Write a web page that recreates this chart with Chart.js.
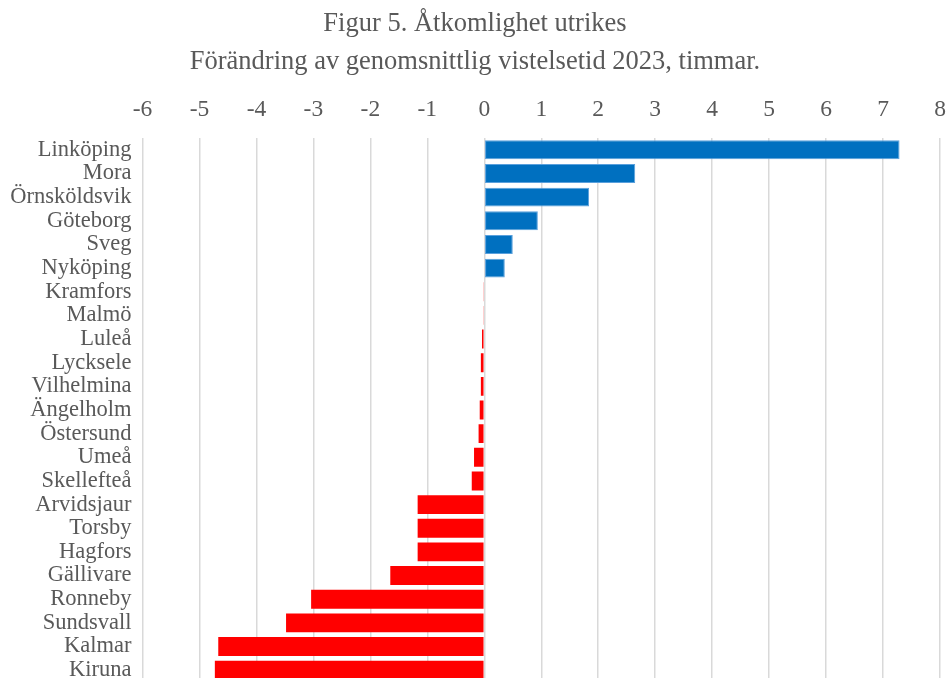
<!DOCTYPE html>
<html>
<head>
<meta charset="utf-8">
<script src="https://cdn.jsdelivr.net/npm/chart.js@4.4.0/dist/chart.umd.min.js"></script>
<style>
html,body{margin:0;padding:0;background:#fff;overflow:hidden;}
#wrap{position:relative;width:947px;height:683px;}
</style>
</head>
<body>
<div id="wrap"><canvas id="c"></canvas></div>
<script>
const titleLines = ["Figur 5. Åtkomlighet utrikes", "Förändring av genomsnittlig vistelsetid 2023, timmar."];
const categories = ["Linköping","Mora","Örnsköldsvik","Göteborg","Sveg","Nyköping","Kramfors","Malmö","Luleå","Lycksele","Vilhelmina","Ängelholm","Östersund","Umeå","Skellefteå","Arvidsjaur","Torsby","Hagfors","Gällivare","Ronneby","Sundsvall","Kalmar","Kiruna"];
const values = [7.29,2.65,1.84,0.94,0.50,0.36,-0.01,-0.01,-0.04,-0.06,-0.06,-0.08,-0.10,-0.18,-0.22,-1.17,-1.17,-1.17,-1.65,-3.04,-3.48,-4.67,-4.73];
const axisMin = -6, axisMax = 8, axisStep = 1;
const positiveColor = "#0070C0", negativeColor = "#FF0000";

const FONT = "'Liberation Serif', 'Times New Roman', serif";
const zeroPad = (s) => { s.paddingLeft = 0; s.paddingRight = 0; s.paddingTop = 0; s.paddingBottom = 0; };
new Chart(document.getElementById('c'), {
  type: 'bar',
  data: {
    labels: categories,
    datasets: [{
      data: values,
      backgroundColor: values.map(v => v >= 0 ? positiveColor : negativeColor),
      borderColor: values.map(v => v >= 0 ? '#5aa0dc' : negativeColor),
      borderWidth: values.map(v => v >= 0 ? 1 : 0),
      borderSkipped: false,
      categoryPercentage: 1.0,
      barPercentage: 0.8
    }]
  },
  options: {
    indexAxis: 'y',
    responsive: true,
    maintainAspectRatio: false,
    animation: false,
    layout: { padding: { left: 10, right: 7, top: 0, bottom: 1 } },
    plugins: {
      legend: { display: false },
      tooltip: { enabled: false },
      title: {
        display: true,
        text: titleLines,
        color: '#595959',
        font: { family: FONT, size: 26.5, weight: 'normal', lineHeight: 1.434 },
        padding: { top: 5, bottom: 0 }
      }
    },
    scales: {
      x: {
        position: 'top',
        min: axisMin, max: axisMax,
        afterFit: (s) => { zeroPad(s); s.height += 0.8; },
        ticks: { stepSize: axisStep, color: '#595959', font: { family: FONT, size: 23.5 }, padding: 14 },
        grid: { color: '#d9d9d9', lineWidth: 1.5, drawTicks: false },
        border: { display: false }
      },
      y: {
        afterFit: (s) => { zeroPad(s); s.width = 132.5; },
        ticks: { color: '#595959', font: { family: FONT, size: 22.5 }, padding: 11, autoSkip: false },
        grid: { display: false, drawTicks: false },
        border: { display: false }
      }
    }
  }
});
</script>
</body>
</html>
